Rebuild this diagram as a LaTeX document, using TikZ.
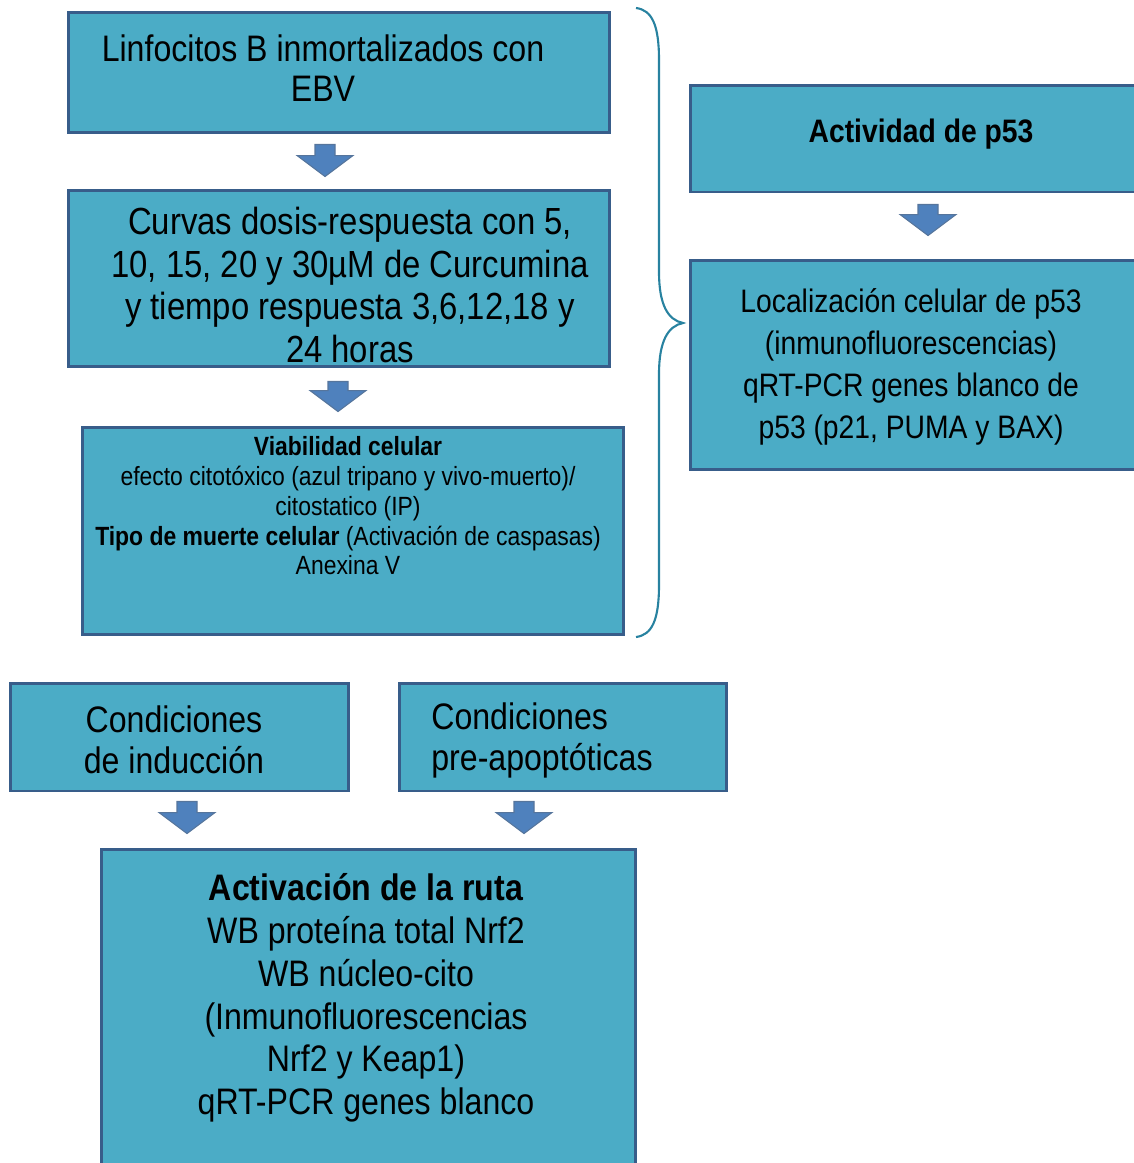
\documentclass[tikz,border=0pt]{standalone}
\usepackage{fontspec}
\setmainfont{Liberation Sans}[FakeStretch=0.87]
\usetikzlibrary{positioning,calc}

\definecolor{cajaazul}{HTML}{4BACC6}
\definecolor{bordeazul}{HTML}{385D8A}
\definecolor{flechaazul}{HTML}{4F81BD}
\definecolor{llave}{RGB}{40,130,160}

\tikzset{
  caja/.style={rectangle, draw=bordeazul, fill=cajaazul, line width=1.7pt, inner sep=0pt},
  texto/.style={align=center, inner sep=0pt, text=black},
  flecha/.style={fill=flechaazul, draw=bordeazul!85, line width=0.6pt},
}

% flecha de bloque: de #1 (cola) a #2 (punta)
\newcommand{\flecha}[2]{%
  \draw[flecha] let \p1=(#1), \p2=(#2) in
    (\x1-0.2cm,\y1) -- (\x1+0.2cm,\y1) -- (\x1+0.2cm,\y2+0.42cm) -- (\x1+0.56cm,\y2+0.42cm)
    -- (\x1,\y2) -- (\x1-0.56cm,\y2+0.42cm) -- (\x1-0.2cm,\y2+0.42cm) -- cycle;
}

\begin{document}
\begin{tikzpicture}[x=0.02cm, y=-0.02cm]
    \useasboundingbox (0,0) rectangle (1133,1163);

    % Columna izquierda
    \node[caja, minimum width=10.84cm, minimum height=2.42cm] (linf) at (339,72.5) {};
    \node[texto, font=\fontsize{21}{23}\selectfont] (linftxt) at (323,68)
        {Linfocitos B inmortalizados con\\EBV};

    \node[caja, minimum width=10.84cm, minimum height=3.54cm] (curv) at (339,278.5) {};
    \node[texto, font=\fontsize{21.5}{24.4}\selectfont] (curvtxt) at (350,285)
        {Curvas dosis-respuesta con 5,\\10, 15, 20 y 30µM de Curcumina\\y tiempo respuesta 3,6,12,18 y\\24 horas};

    \node[caja, minimum width=10.84cm, minimum height=4.16cm] (viab) at (353,531) {};
    \node[texto, font=\fontsize{15}{17}\selectfont, anchor=north] (viabtxt) at (348,436)
        {\textbf{Viabilidad celular}\\efecto citotóxico (azul tripano y vivo-muerto)/\\citostatico (IP)\\
         \textbf{Tipo de muerte celular} (Activación de caspasas)\\Anexina V};

    % Columna derecha
    \node[caja, minimum width=9.24cm, minimum height=2.14cm] (p53) at (921,138.5) {};
    \node[texto, font=\fontsize{18.5}{23}\bfseries] (p53txt) at (921,134) {Actividad de p53};

    \node[caja, minimum width=9.24cm, minimum height=4.2cm] (loc) at (921,365) {};
    \node[texto, font=\fontsize{18.5}{24}\selectfont] (loctxt) at (911,367)
        {Localización celular de p53\\(inmunofluorescencias)\\qRT-PCR genes blanco de\\p53 (p21, PUMA y BAX)};

    % Llave
    \draw[llave, line width=1.2pt]
        (636,8) .. controls (652,10) and (659,25) .. (659,60) -- (659,272)
        .. controls (659,305) and (668,320) .. (683,323)
        .. controls (668,326) and (659,341) .. (659,374) -- (659,585)
        .. controls (659,620) and (652,635) .. (636,637);

    % Parte inferior
    \node[caja, minimum width=6.78cm, minimum height=2.16cm] (cond1) at (179.5,737) {};
    \node[texto, font=\fontsize{21}{23.3}\selectfont] (cond1txt) at (174,740)
        {Condiciones\\de inducción};

    \node[caja, minimum width=6.56cm, minimum height=2.16cm] (cond2) at (563,737) {};
    \node[texto, align=left, font=\fontsize{21}{23.3}\selectfont] (cond2txt) at (542,740)
        {Condiciones\\pre-apoptóticas};

    \node[caja, minimum width=10.7cm, minimum height=6.8cm] (ruta) at (368.5,1019) {};
    \node[texto, font=\fontsize{21}{24.4}\selectfont, anchor=north] (rutatxt) at (366,873)
        {\textbf{Activación de la ruta}\\WB proteína total Nrf2\\WB núcleo-cito\\(Inmunofluorescencias\\Nrf2 y Keap1)\\qRT-PCR genes blanco};

    % Flechas
    \flecha{$(linf.south)+(-14,10)$}{$(curv.north)+(-14,-12)$}
    \flecha{$(curv.south)+(-1,13)$}{$(viab.north)+(-15,-14)$}
    \flecha{$(p53.south)+(7,11)$}{$(loc.north)+(7,-23)$}
    \flecha{$(cond1.south)+(7.5,9)$}{$(ruta.north)+(-181.5,-14)$}
    \flecha{$(cond2.south)+(-39,9)$}{$(ruta.north)+(155.5,-14)$}
\end{tikzpicture}
\end{document}
